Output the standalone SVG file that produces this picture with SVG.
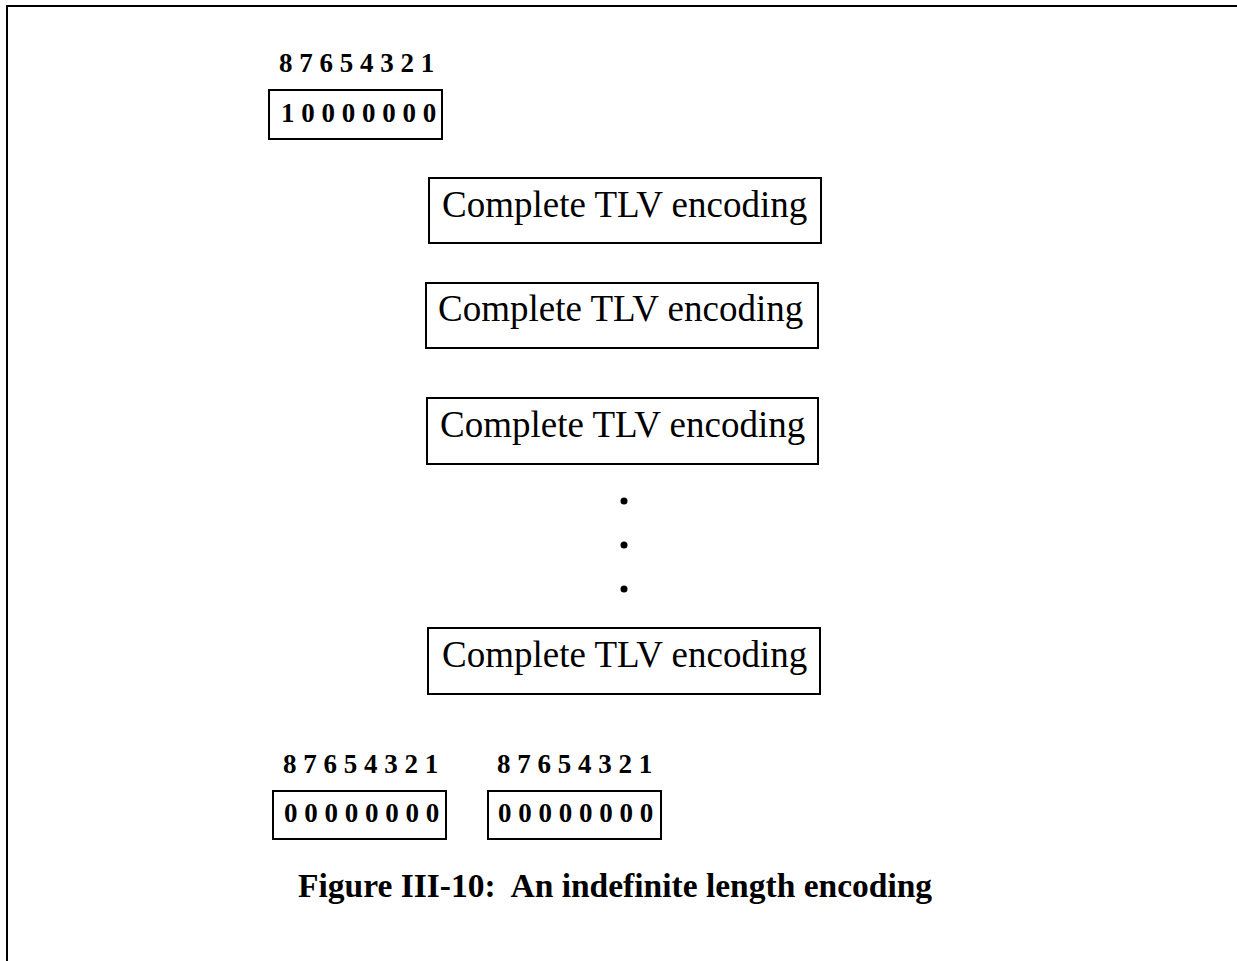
<svg xmlns="http://www.w3.org/2000/svg" width="1237" height="961" viewBox="0 0 1237 961">
  <style>
    .frame { stroke: #000; stroke-width: 2; fill: none; }
    .box { fill: #fff; stroke: #000; stroke-width: 2; }
    .bits { font-family: "Liberation Serif", "Times New Roman", serif; font-weight: bold; font-size: 27px; fill: #000; }
    .tlv { font-family: "Liberation Serif", "Times New Roman", serif; font-size: 37px; fill: #000; }
    .caption { font-family: "Liberation Serif", "Times New Roman", serif; font-weight: bold; font-size: 33.5px; fill: #000; }
  </style>
  <rect width="1237" height="961" fill="#fff"/>

  <!-- page frame: top and left rules -->
  <g id="frame">
    <line class="frame" x1="6" y1="6" x2="1237" y2="6"/>
    <line class="frame" x1="7" y1="5" x2="7" y2="961"/>
  </g>

  <!-- leading octet: indefinite length marker -->
  <g id="length-octet">
    <text class="bits" x="279" y="72" xml:space="preserve">8 7 6 5 4 3 2 1</text>
    <rect class="box" x="269" y="90" width="173" height="49"/>
    <text class="bits" x="281" y="122" xml:space="preserve">1 0 0 0 0 0 0 0</text>
  </g>

  <g id="tlv-1">
    <rect class="box" x="429" y="178" width="392" height="65"/>
    <text class="tlv" x="442" y="217">Complete TLV encoding</text>
  </g>
  <g id="tlv-2">
    <rect class="box" x="426" y="283" width="392" height="65"/>
    <text class="tlv" x="438" y="321">Complete TLV encoding</text>
  </g>
  <g id="tlv-3">
    <rect class="box" x="427" y="398" width="391" height="66"/>
    <text class="tlv" x="440" y="437">Complete TLV encoding</text>
  </g>

  <!-- vertical ellipsis -->
  <g id="ellipsis" fill="#000">
    <circle cx="624" cy="501" r="3.5"/>
    <circle cx="624" cy="545" r="3.5"/>
    <circle cx="624" cy="589" r="3.5"/>
  </g>

  <g id="tlv-n">
    <rect class="box" x="428" y="628" width="392" height="66"/>
    <text class="tlv" x="442" y="667">Complete TLV encoding</text>
  </g>

  <!-- end-of-contents octets -->
  <g id="eoc-1">
    <text class="bits" x="283" y="773" xml:space="preserve">8 7 6 5 4 3 2 1</text>
    <rect class="box" x="273" y="791" width="173" height="48"/>
    <text class="bits" x="284" y="822" xml:space="preserve">0 0 0 0 0 0 0 0</text>
  </g>
  <g id="eoc-2">
    <text class="bits" x="497" y="773" xml:space="preserve">8 7 6 5 4 3 2 1</text>
    <rect class="box" x="488" y="791" width="173" height="48"/>
    <text class="bits" x="498" y="822" xml:space="preserve">0 0 0 0 0 0 0 0</text>
  </g>

  <text class="caption" x="298" y="897" xml:space="preserve">Figure III-10:  An indefinite length encoding</text>
</svg>
